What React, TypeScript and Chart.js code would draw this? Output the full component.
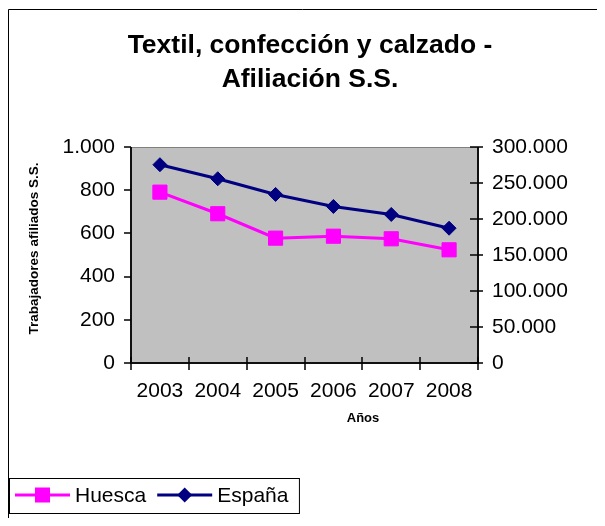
import React, { useEffect, useRef } from 'react';
import { Chart, registerables } from 'chart.js';

Chart.register(...registerables);

const years = ['2003', '2004', '2005', '2006', '2007', '2008'];
const huesca = [791, 691, 578, 587, 575, 524];
const espana = [275400, 255900, 234100, 217400, 206300, 187200];
const leftTicks = [0, 200, 400, 600, 800, 1000];
const rightTicks = [0, 50000, 100000, 150000, 200000, 250000, 300000];
const titleLines = ['Textil, confección y calzado -', 'Afiliación S.S.'];
const yTitle = 'Trabajadores afiliados S.S.';
const xTitle = 'Años';
const seriesNames = ['Huesca', 'España'];
const seriesColors = ['#FF00FF', '#000080'];
const seriesMarkers = ['rect', 'rectRot'];

const FONT = '"Liberation Sans", Arial, Helvetica, sans-serif';
const fmt = (v: number) => String(v).replace(/\B(?=(\d{3})+(?!\d))/g, '.');

function drawMarker(ctx: CanvasRenderingContext2D, kind: string, x: number, y: number, color: string) {
  ctx.fillStyle = color;
  ctx.beginPath();
  if (kind === 'rect') {
    ctx.rect(x - 7.5, y - 7.5, 15, 15);
  } else {
    const r = 7.5;
    ctx.moveTo(x - r, y);
    ctx.lineTo(x, y - r);
    ctx.lineTo(x + r, y);
    ctx.lineTo(x, y + r);
    ctx.closePath();
  }
  ctx.fill();
}

const decor = {
  id: 'decor',
  beforeDraw(chart: any) {
    const { ctx, chartArea: a, width, height } = chart;
    ctx.save();
    ctx.fillStyle = '#fff';
    ctx.fillRect(0, 0, width, height);
    ctx.strokeStyle = '#000';
    ctx.lineWidth = 1;
    ctx.beginPath();
    ctx.moveTo(0.5, height);
    ctx.lineTo(0.5, 1.5);
    ctx.lineTo(width, 1.5);
    ctx.stroke();
    ctx.fillStyle = '#C0C0C0';
    ctx.fillRect(a.left, a.top, a.right - a.left, a.bottom - a.top);
    ctx.restore();
  },
  beforeDatasetsDraw(chart: any) {
    const { ctx, chartArea: a, scales } = chart;
    ctx.save();
    ctx.strokeStyle = '#808080';
    ctx.lineWidth = 1;
    ctx.beginPath();
    ctx.moveTo(a.left, a.top + 0.5);
    ctx.lineTo(a.right, a.top + 0.5);
    ctx.stroke();
    ctx.strokeStyle = '#111';
    ctx.lineWidth = 2;
    ctx.beginPath();
    ctx.moveTo(a.left, a.top);
    ctx.lineTo(a.left, a.bottom);
    ctx.lineTo(a.right, a.bottom);
    ctx.lineTo(a.right, a.top);
    ctx.stroke();
    ctx.lineWidth = 1.5;
    ctx.strokeStyle = '#000';
    ctx.beginPath();
    scales.y.ticks.forEach((t: any) => {
      const y = Math.round(scales.y.getPixelForValue(t.value));
      ctx.moveTo(a.left - 7, y);
      ctx.lineTo(a.left, y);
    });
    scales.y1.ticks.forEach((t: any) => {
      const y = Math.round(scales.y1.getPixelForValue(t.value));
      ctx.moveTo(a.right - 8, y);
      ctx.lineTo(a.right + 5, y);
    });
    for (let i = 0; i <= years.length; i++) {
      const x = Math.round(scales.x.getPixelForValue(i - 0.5));
      ctx.moveTo(x, a.bottom - 6);
      ctx.lineTo(x, a.bottom + 7);
    }
    ctx.stroke();
    ctx.restore();
  },
  afterDraw(chart: any) {
    const { ctx } = chart;
    ctx.save();
    ctx.fillStyle = '#000';
    ctx.font = `bold 13.5px ${FONT}`;
    ctx.textAlign = 'center';
    ctx.textBaseline = 'middle';
    ctx.save();
    ctx.translate(26, 240.5);
    ctx.rotate(-Math.PI / 2);
    ctx.fillText(yTitle, 0, 0);
    ctx.restore();
    ctx.font = `bold 13px ${FONT}`;
    ctx.fillText(xTitle, 355, 410);

    // legend
    ctx.font = `21px ${FONT}`;
    ctx.textAlign = 'left';
    const cy = 487;
    let x = 7;
    let end = x;
    seriesNames.forEach((name, i) => {
      ctx.strokeStyle = seriesColors[i];
      ctx.lineWidth = 3;
      ctx.beginPath();
      ctx.moveTo(x, cy);
      ctx.lineTo(x + 55, cy);
      ctx.stroke();
      drawMarker(ctx, seriesMarkers[i], x + 27.5, cy, seriesColors[i]);
      ctx.fillStyle = '#000';
      ctx.fillText(name, x + 60, cy + 1);
      const w = ctx.measureText(name).width;
      end = x + 60 + w;
      x = end + 11;
    });
    ctx.strokeStyle = '#000';
    ctx.lineWidth = 1;
    ctx.strokeRect(1.5, 470.5, end + 11 - 1.5, 35);
    ctx.restore();
  },
};

export default function App() {
  const ref = useRef<HTMLCanvasElement | null>(null);
  useEffect(() => {
    if (!ref.current) return;
    const tickFont = { family: FONT, size: 21 };
    const chart = new Chart(ref.current, {
      type: 'line',
      data: {
        labels: years,
        datasets: [
          {
            label: seriesNames[0],
            data: huesca,
            yAxisID: 'y',
            borderColor: seriesColors[0],
            backgroundColor: seriesColors[0],
            borderWidth: 3,
            pointStyle: 'rect',
            pointRadius: 10,
            pointBorderWidth: 1,
            pointBackgroundColor: seriesColors[0],
            pointBorderColor: seriesColors[0],
            tension: 0,
            fill: false,
          },
          {
            label: seriesNames[1],
            data: espana,
            yAxisID: 'y1',
            borderColor: seriesColors[1],
            backgroundColor: seriesColors[1],
            borderWidth: 3,
            pointStyle: 'rectRot',
            pointRadius: 7,
            pointBorderWidth: 1,
            pointBackgroundColor: seriesColors[1],
            pointBorderColor: seriesColors[1],
            tension: 0,
            fill: false,
          },
        ],
      },
      options: {
        responsive: false,
        animation: false,
        devicePixelRatio: 1,
        layout: { padding: { left: 15, right: 0, top: 0, bottom: 0 } },
        plugins: {
          legend: { display: false },
          tooltip: { enabled: false },
          title: {
            display: true,
            text: titleLines,
            color: '#000',
            font: { family: FONT, size: 26.5, weight: 'bold', lineHeight: 34 / 26.5 },
            padding: { top: 21, bottom: 50 },
          },
        },
        scales: {
          x: {
            offset: true,
            grid: { display: false, drawTicks: false },
            border: { display: false },
            ticks: { color: '#000', font: tickFont, padding: 16, maxRotation: 0, autoSkip: false },
            afterFit: (s: any) => { s.height = 155; },
          },
          y: {
            position: 'left',
            min: 0,
            max: 1000,
            grid: { display: false, drawTicks: false },
            border: { display: false },
            afterBuildTicks: (s: any) => { s.ticks = leftTicks.map((v) => ({ value: v })); },
            ticks: { color: '#000', font: tickFont, padding: 16, callback: (v: any) => fmt(Number(v)) },
            afterFit: (s: any) => { s.width = 108; },
          },
          y1: {
            position: 'right',
            min: 0,
            max: 300000,
            grid: { display: false, drawTicks: false },
            border: { display: false },
            afterBuildTicks: (s: any) => { s.ticks = rightTicks.map((v) => ({ value: v })); },
            ticks: { color: '#000', font: tickFont, padding: 14, callback: (v: any) => fmt(Number(v)) },
            afterFit: (s: any) => { s.width = 119; },
          },
        },
      } as any,
      plugins: [decor],
    });
    return () => chart.destroy();
  }, []);
  return (
    <div>
      <canvas ref={ref} width={589} height={510} style={{ display: 'block' }} />
    </div>
  );
}
